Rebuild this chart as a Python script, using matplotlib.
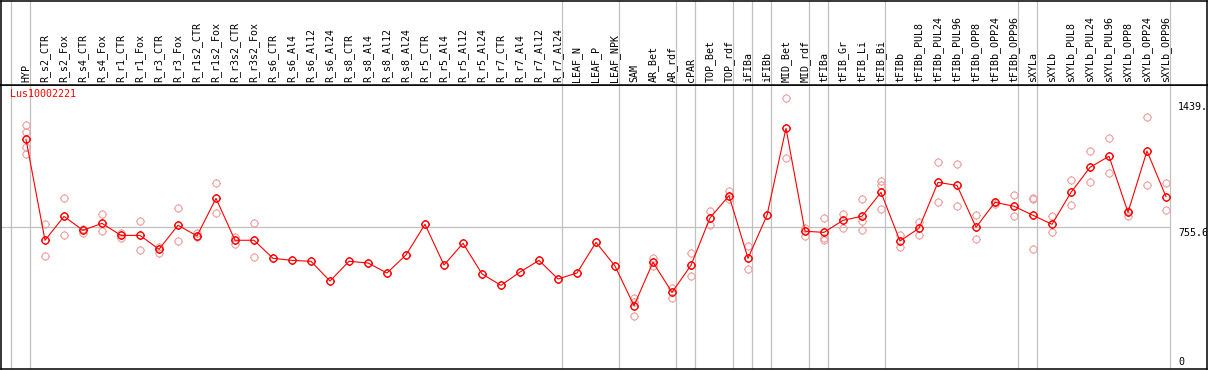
import matplotlib
matplotlib.use('Agg')
import matplotlib.pyplot as plt
from matplotlib.path import Path
import numpy as np

categories = ['HYP', 'R_s2_CTR', 'R_s2_Fox', 'R_s4_CTR', 'R_s4_Fox', 'R_r1_CTR', 'R_r1_Fox',
              'R_r3_CTR', 'R_r3_Fox', 'R_r1s2_CTR', 'R_r1s2_Fox', 'R_r3s2_CTR', 'R_r3s2_Fox',
              'R_s6_CTR', 'R_s6_Al4', 'R_s6_Al12', 'R_s6_Al24', 'R_s8_CTR', 'R_s8_Al4',
              'R_s8_Al12', 'R_s8_Al24', 'R_r5_CTR', 'R_r5_Al4', 'R_r5_Al12', 'R_r5_Al24',
              'R_r7_CTR', 'R_r7_Al4', 'R_r7_Al12', 'R_r7_Al24', 'LEAF_N', 'LEAF_P', 'LEAF_NPK',
              'SAM', 'AR_Bet', 'AR_rdf', 'cPAR', 'TOP_Bet', 'TOP_rdf', 'iFIBa', 'iFIBb',
              'MID_Bet', 'MID_rdf', 'tFIBa', 'tFIB_Gr', 'tFIB_Li', 'tFIB_Bi', 'tFIBb',
              'tFIBb_PUL8', 'tFIBb_PUL24', 'tFIBb_PUL96', 'tFIBb_OPP8', 'tFIBb_OPP24',
              'tFIBb_OPP96', 'sXYLa', 'sXYLb', 'sXYLb_PUL8', 'sXYLb_PUL24', 'sXYLb_PUL96',
              'sXYLb_OPP8', 'sXYLb_OPP24', 'sXYLb_OPP96']

means = [1222, 685, 812, 738, 775, 711, 711, 637, 765, 708, 908, 685, 685,
         589, 578, 573, 468, 573, 564, 511, 607, 770, 553, 669, 506,
         445, 516, 578, 479, 511, 674, 548,
         337, 568, 408, 552, 804, 922, 589, 818,
         1281, 733, 727, 791, 813, 940, 681,
         749, 993, 977, 754, 887, 866,
         818, 770, 940, 1073, 1132, 834, 1160, 917]

replicates = [[1297, 1259, 1183, 1142], [770, 600], [908, 711], [745, 725], [825, 733],
              [724, 697], [786, 631], [651, 617], [857, 679], [722, 701], [988, 829],
              [704, 665], [775, 594],
              [], [], [], [], [], [], [], [], [], [], [], [],
              [], [], [], [], [], [], [],
              [376, 356, 282], [589, 550], [433, 380], [616, 493], [841, 768], [949, 906],
              [655, 530], [],
              [1440, 1121], [752, 710], [802, 697, 688], [823, 749], [903, 790, 741],
              [1000, 979, 850], [713, 651],
              [782, 715], [1100, 889], [1089, 866], [818, 690], [890, 880], [924, 813],
              [908, 905, 637], [814, 727], [1006, 871], [1160, 995], [1228, 1043],
              [841, 816], [1339, 977], [988, 846]]

group_edges = [0, 1, 29, 32, 35, 36, 38, 39, 40, 42, 43, 46, 53, 54, 61]
y_max = 1511.2
label_top = '1439.'

# circle with four short ticks sticking out
t = np.linspace(0, 2 * np.pi, 33)
verts = [(0.78 * np.cos(a), 0.78 * np.sin(a)) for a in t]
codes = [Path.MOVETO] + [Path.LINETO] * (len(verts) - 1)
for dx, dy in [(0, 1), (0, -1), (1, 0), (-1, 0)]:
    verts += [(0.78 * dx, 0.78 * dy), (dx, dy)]
    codes += [Path.MOVETO, Path.LINETO]
tick_circle = Path(verts, codes)

mono = 'DejaVu Sans Mono'
W, H = 1209, 370
fig = plt.figure(figsize=(W / 100, H / 100), dpi=100)
off = 15 / 19
xl = (-25 / 19, 1181 / 19)

ax = fig.add_axes([1 / W, 1 / H, 1206 / W, 284 / H])
hax = fig.add_axes([1 / W, 285 / H, 1206 / W, 84.5 / H])

x = np.arange(len(categories))
for a in (ax, hax):
    a.set_xlim(*xl)
    a.set_xticks([])
    a.set_yticks([])
    for s in a.spines.values():
        s.set_linewidth(1.1)
        s.set_color('black')
    for k in group_edges:
        a.axvline(k - off, color='#c0c0c0', lw=0.9, zorder=0)
hax.set_ylim(0, 1)
ax.set_ylim(0, y_max)
ax.hlines(y_max / 2, xl[0], group_edges[-1] - off, color='#c0c0c0', lw=0.9, zorder=0)

for i, name in enumerate(categories):
    hax.text(i, 0.035, name, rotation=90, ha='center', va='bottom',
             fontsize=7.2, family=mono)

for i, reps in enumerate(replicates):
    if reps:
        ax.plot([i] * len(reps), reps, linestyle='none', marker=tick_circle, ms=6.5,
                mfc='none', mec='#f0a0a0', mew=0.8, zorder=2)

ax.plot(x, means, color='red', lw=0.8, marker=tick_circle, ms=6.5,
        mfc='none', mec='red', mew=1.0, zorder=3)

ax.text(-0.84, 1490, 'Lus10002221', color='red', fontsize=7.2, family=mono,
        ha='left', va='top')
xr = group_edges[-1] - off + 0.42
ax.text(xr, 1439 - 20, label_top, fontsize=7.2, family=mono, ha='left', va='top',
        clip_on=True)
ax.text(xr, y_max / 2 - 5, '%.1f' % (y_max / 2), fontsize=7.2, family=mono,
        ha='left', va='top', clip_on=True)
ax.text(xr, 10, '0', fontsize=7.2, family=mono, ha='left', va='bottom')

fig.savefig('out.png', dpi=100)
